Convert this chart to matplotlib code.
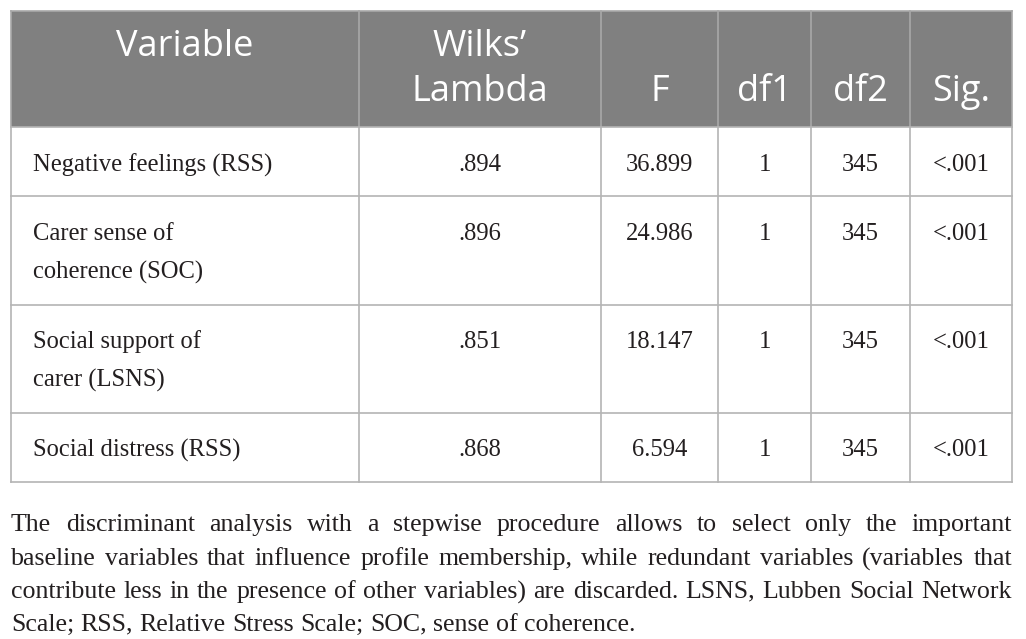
import math
import matplotlib
matplotlib.use("Agg")
import matplotlib.pyplot as plt
from matplotlib.patches import Rectangle
from matplotlib.font_manager import FontProperties

# table content
header = ["Variable", "Wilks\u2019\nLambda", "F", "df1", "df2", "Sig."]
variables = ["Negative feelings (RSS)", "Carer sense of\ncoherence (SOC)",
             "Social support of\ncarer (LSNS)", "Social distress (RSS)"]
wilks = [".894", ".896", ".851", ".868"]
f_vals = ["36.899", "24.986", "18.147", "6.594"]
df1 = ["1", "1", "1", "1"]
df2 = ["345", "345", "345", "345"]
sig = ["<.001", "<.001", "<.001", "<.001"]

note_lines = [
    "The discriminant analysis with a stepwise procedure allows to select only the important",
    "baseline variables that influence profile membership, while redundant variables (variables that",
    "contribute less in the presence of other variables) are discarded. LSNS, Lubben Social Network",
    "Scale; RSS, Relative Stress Scale; SOC, sense of coherence.",
]

# layout in pixels
col_x = [11, 359, 601, 718, 811, 910, 1012]
row_y = [11, 127, 196, 305, 413, 482]
header_bg = "#808080"
line_col = "#b4b4b4"
text_col = "#231f20"
serif = "Liberation Serif"
sans = "Open Sans"
body_size = 17.7
note_size = 18.6
head_size = 26

fig = plt.figure(figsize=(10.26, 6.39), dpi=100)
ax = fig.add_axes([0, 0, 1, 1])
ax.set_xlim(0, 1026)
ax.set_ylim(639, 0)
ax.axis("off")
renderer = fig.canvas.get_renderer()


def put(x, base, s, size, family, ha="left", color=text_col):
    # agg snaps each text bitmap to whole pixels from its own box,
    # so shift every word to land on the same baseline row
    prop = FontProperties(family=family, size=size)
    _, h, d = renderer.get_text_width_height_descent(s, prop, ismath=False)
    y = round(base) + math.floor(h) - math.floor(h - d) - d
    return ax.text(x, y, s, ha=ha, va="baseline", fontproperties=prop, color=color)


# header background
ax.add_patch(Rectangle((col_x[0], row_y[0]), col_x[-1] - col_x[0], row_y[1] - row_y[0],
                       facecolor=header_bg, edgecolor="none"))

# grid lines
for x in col_x:
    ax.plot([x, x], [row_y[0], row_y[1]], color="#a8a8a8", lw=1.2)
    ax.plot([x, x], [row_y[1], row_y[-1]], color=line_col, lw=1.2)
for y in row_y:
    ax.plot([col_x[0], col_x[-1]], [y, y], color=line_col if y != row_y[0] else "#a8a8a8", lw=1.2)

# header text
head_top, head_bot = 56, 101
put((col_x[0] + col_x[1]) / 2, head_top, header[0], head_size, sans, "center", "white")
w1, w2 = header[1].split("\n")
c = (col_x[1] + col_x[2]) / 2
put(c, head_top, w1, head_size, sans, "center", "white")
put(c, head_bot, w2, head_size, sans, "center", "white")
for j in range(2, 6):
    put((col_x[j] + col_x[j + 1]) / 2, head_bot, header[j], head_size, sans, "center", "white")

# body
first_base = [171, 240, 348, 456]
line_gap = 38.5
for i in range(len(variables)):
    y = first_base[i]
    for k, part in enumerate(variables[i].split("\n")):
        put(33, y + k * line_gap, part, body_size, serif)
    vals = [wilks[i], f_vals[i], df1[i], df2[i], sig[i]]
    for j, v in enumerate(vals):
        put((col_x[j + 1] + col_x[j + 2]) / 2, y, v, body_size, serif, "center")

# footnote, justified
note_base = [531, 565, 598, 631]
left, right = col_x[0], col_x[-1]
for n, line in enumerate(note_lines):
    words = line.split(" ")
    texts = [put(0, note_base[n], w, note_size, serif) for w in words]
    widths = [t.get_window_extent(renderer).width for t in texts]
    if n < len(note_lines) - 1:
        gap = (right - left - sum(widths)) / (len(words) - 1)
    else:
        sp = ax.text(0, 0, "a a", fontsize=note_size, family=serif)
        sa = ax.text(0, 0, "aa", fontsize=note_size, family=serif)
        gap = sp.get_window_extent(renderer).width - sa.get_window_extent(renderer).width
        sp.remove()
        sa.remove()
    x = left
    for t, w in zip(texts, widths):
        t.set_x(x)
        x += w + gap

fig.savefig("out.png", dpi=100)
